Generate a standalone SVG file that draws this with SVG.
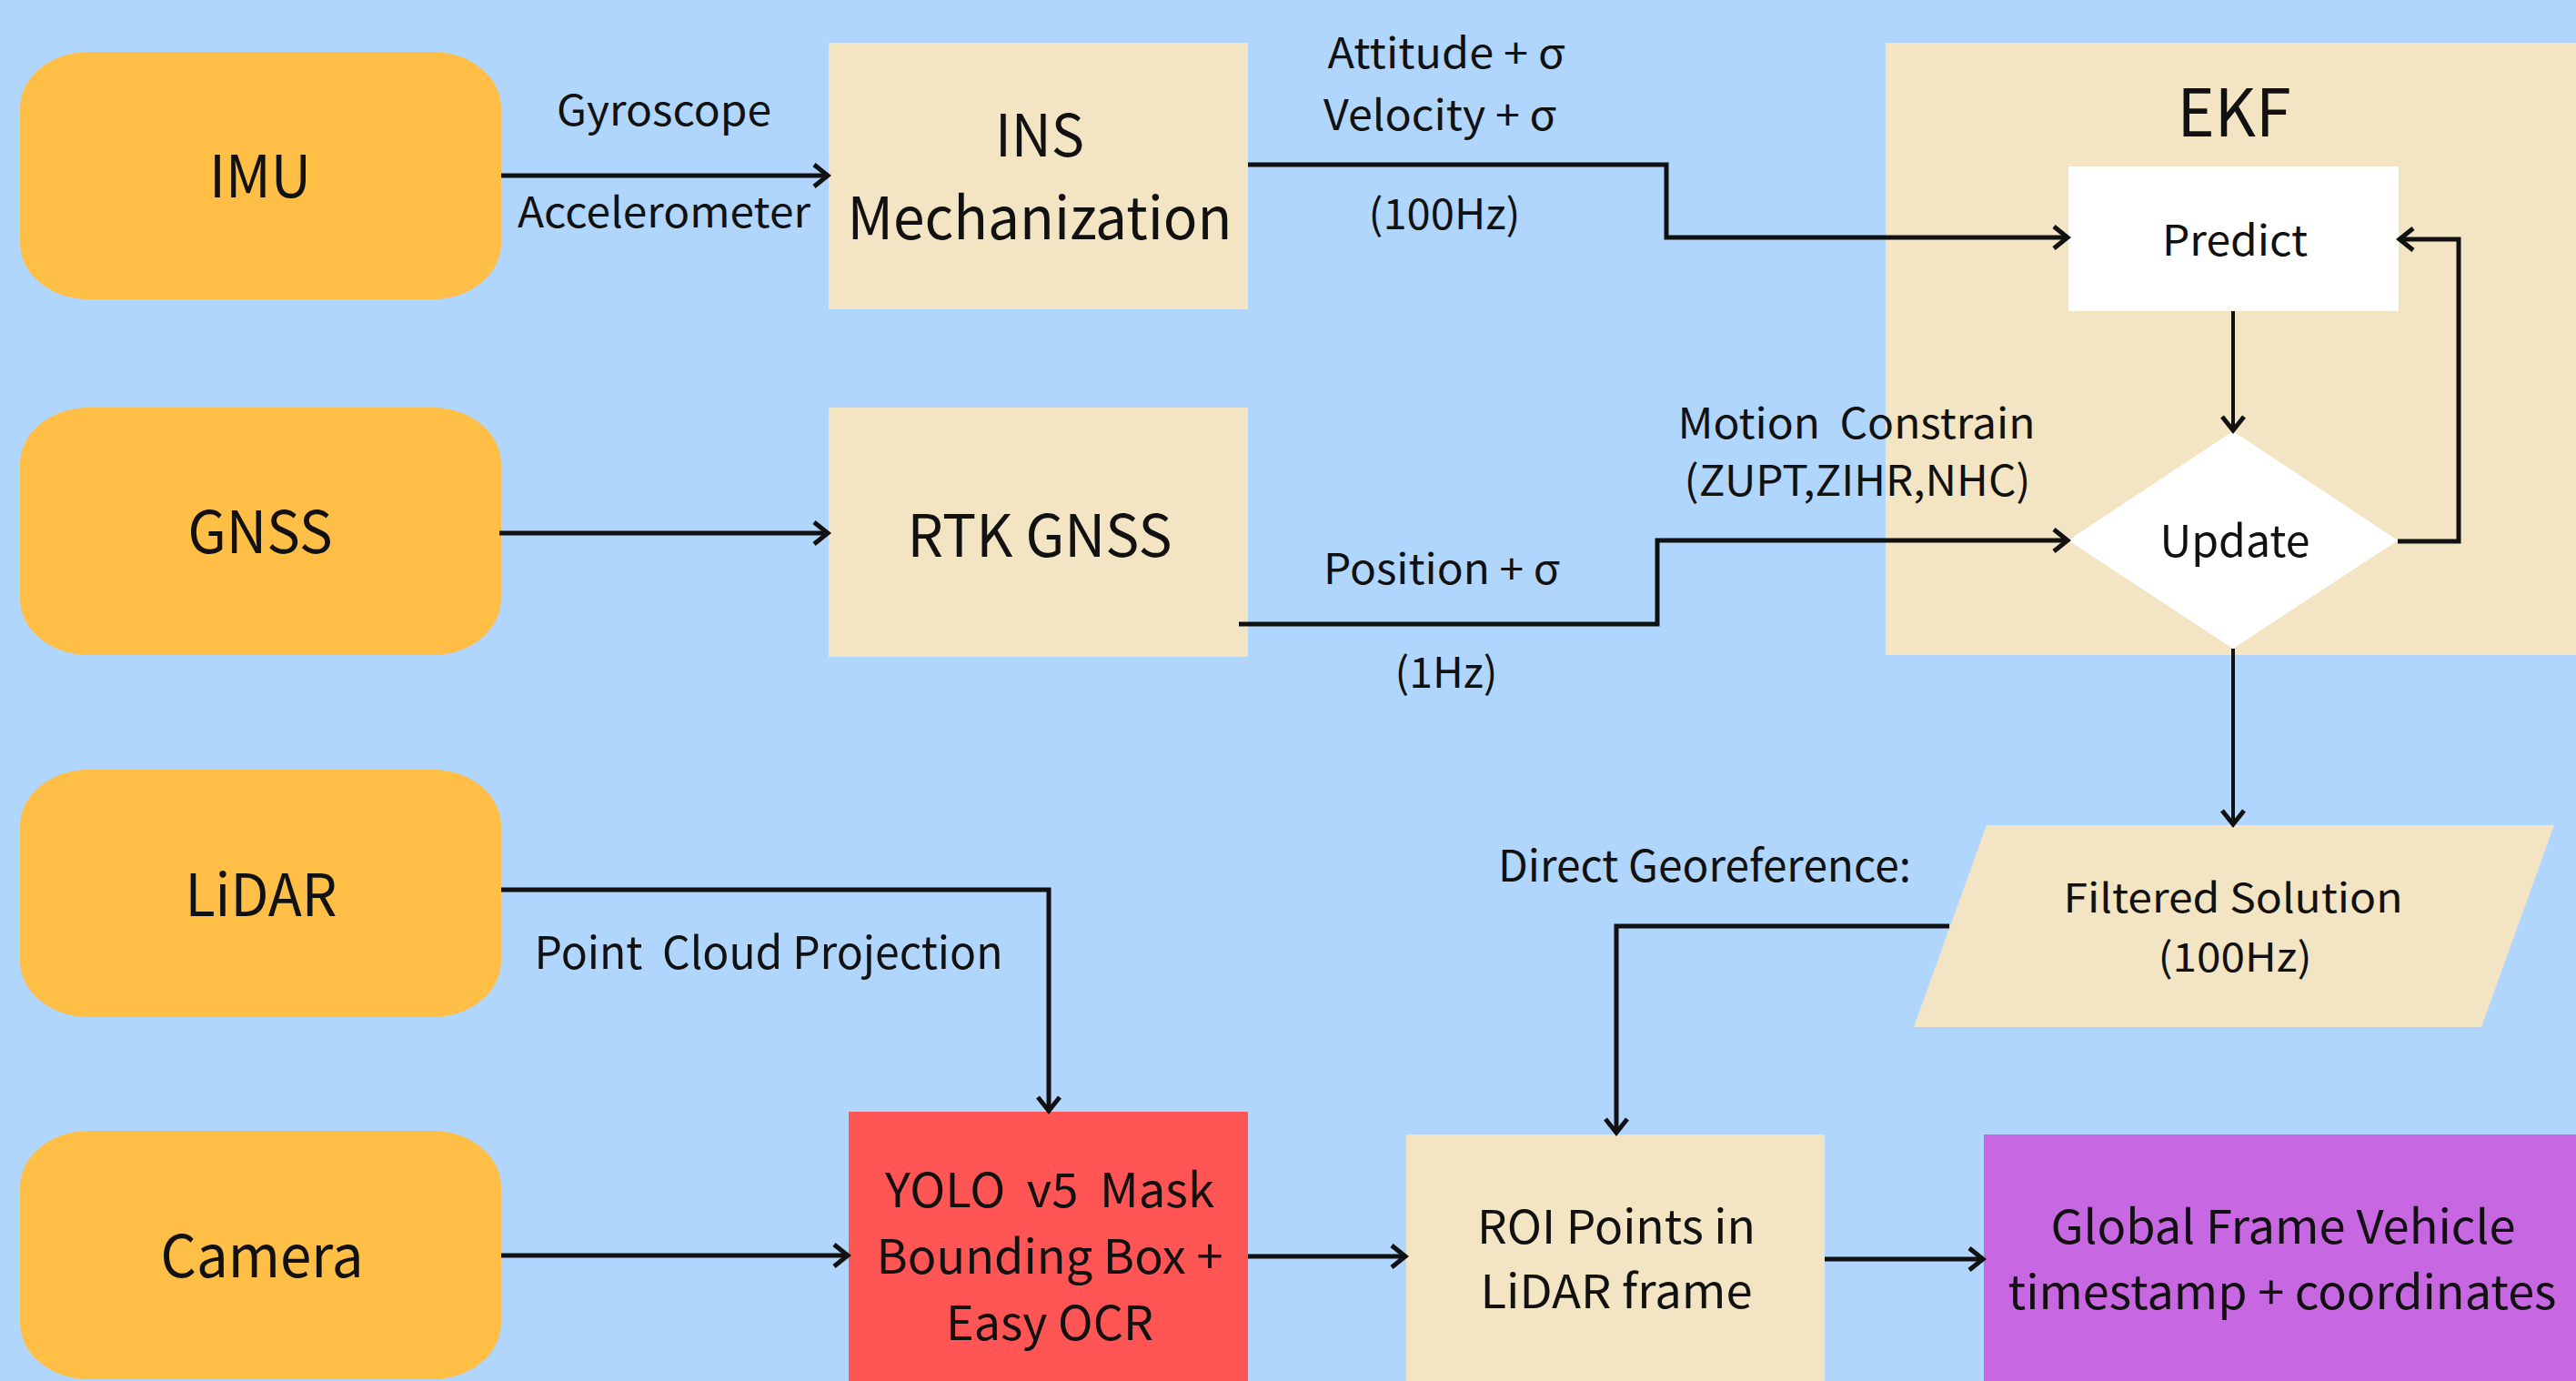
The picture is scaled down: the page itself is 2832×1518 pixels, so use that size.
<svg xmlns="http://www.w3.org/2000/svg" width="2832" height="1518" viewBox="0 0 2832 1518">
<style>
.t{font-family:"Noto Sans CJK SC","Noto Sans",sans-serif;fill:#111;text-anchor:middle}
.pre{white-space:pre}
.src{fill:#FFBE46}
.bg{fill:#F3E5C4}
.ln{fill:none;stroke:#111;stroke-width:5;stroke-linejoin:miter}
.ln2{fill:none;stroke:#111;stroke-width:4;stroke-linejoin:miter}
</style>
<defs>
<marker id="ah" markerUnits="userSpaceOnUse" viewBox="-20 -16 24 32" refX="-1" refY="0" markerWidth="24" markerHeight="32" orient="auto">
<polyline points="-15,-12 0,0 -15,12" fill="none" stroke="#111" stroke-width="5"/>
</marker>
</defs>
<rect width="2832" height="1518" fill="#B0D6FD"/>

<g id="ekf">
<rect class="bg" x="2073" y="47" width="759" height="673"/>
<text class="t" x="2456" y="150" font-size="72" textLength="125" lengthAdjust="spacingAndGlyphs">EKF</text>
</g>

<g id="imu">
<rect class="src" x="22" y="57" width="529" height="272" rx="75" ry="62"/>
<text class="t" x="286" y="217" font-size="64" textLength="112" lengthAdjust="spacingAndGlyphs">IMU</text>
</g>
<g id="gnss">
<rect class="src" x="22" y="448" width="529" height="272" rx="75" ry="62"/>
<text class="t" x="286" y="608" font-size="64" textLength="159" lengthAdjust="spacingAndGlyphs">GNSS</text>
</g>
<g id="lidar">
<rect class="src" x="22" y="846" width="529" height="272" rx="75" ry="62"/>
<text class="t" x="287" y="1007" font-size="64" textLength="167" lengthAdjust="spacingAndGlyphs">LiDAR</text>
</g>
<g id="camera">
<rect class="src" x="22" y="1243" width="529" height="273" rx="75" ry="62"/>
<text class="t" x="288" y="1404" font-size="64" textLength="223" lengthAdjust="spacingAndGlyphs">Camera</text>
</g>

<g id="ins">
<rect class="bg" x="911" y="47" width="461" height="293"/>
<text class="t" x="1143" y="172" font-size="64" textLength="98" lengthAdjust="spacingAndGlyphs">INS</text>
<text class="t" x="1143" y="263" font-size="64" textLength="423" lengthAdjust="spacingAndGlyphs">Mechanization</text>
</g>
<g id="rtk">
<rect class="bg" x="911" y="448" width="461" height="274"/>
<text class="t" x="1143" y="612" font-size="64" textLength="291" lengthAdjust="spacingAndGlyphs">RTK GNSS</text>
</g>

<g id="predict">
<rect x="2274" y="183" width="363" height="159" fill="#FFFFFF"/>
<text class="t" x="2457" y="281" font-size="46" textLength="160" lengthAdjust="spacingAndGlyphs">Predict</text>
</g>
<g id="update">
<polygon points="2455,474 2636,594 2455,713 2274,594" fill="#FFFFFF"/>
<text class="t" x="2457" y="612" font-size="48" textLength="165" lengthAdjust="spacingAndGlyphs">Update</text>
</g>

<g id="filtered">
<polygon class="bg" points="2184,907 2808,907 2728,1129 2104,1129"/>
<text class="t" x="2455" y="1003" font-size="44" textLength="373" lengthAdjust="spacingAndGlyphs">Filtered Solution</text>
<text class="t" x="2457" y="1068" font-size="44" textLength="169" lengthAdjust="spacingAndGlyphs">(100Hz)</text>
</g>

<g id="yolo">
<rect x="933" y="1222" width="439" height="296" fill="#FF5555"/>
<text class="t pre" x="1154" y="1327" font-size="52" textLength="362" lengthAdjust="spacingAndGlyphs">YOLO  v5  Mask</text>
<text class="t" x="1154" y="1400" font-size="52" textLength="381" lengthAdjust="spacingAndGlyphs">Bounding Box +</text>
<text class="t" x="1154" y="1473" font-size="52" textLength="228" lengthAdjust="spacingAndGlyphs">Easy OCR</text>
</g>

<g id="roi">
<rect class="bg" x="1546" y="1247" width="460" height="271"/>
<text class="t" x="1777" y="1367" font-size="51" textLength="306" lengthAdjust="spacingAndGlyphs">ROI Points in</text>
<text class="t" x="1777" y="1438" font-size="51" textLength="299" lengthAdjust="spacingAndGlyphs">LiDAR frame</text>
</g>

<g id="global">
<rect x="2181" y="1247" width="651" height="271" fill="#C867E2"/>
<text class="t" x="2510" y="1367" font-size="51" textLength="511" lengthAdjust="spacingAndGlyphs">Global Frame Vehicle</text>
<text class="t" x="2509" y="1439" font-size="51" textLength="603" lengthAdjust="spacingAndGlyphs">timestamp + coordinates</text>
</g>

<g id="connectors">
<path class="ln" d="M551,193 H909" marker-end="url(#ah)"/>
<path class="ln" d="M549,586 H909" marker-end="url(#ah)"/>
<path class="ln" d="M1372,181 H1832 V261 H2272" marker-end="url(#ah)"/>
<path class="ln" d="M1362,686 H1822 V594 H2272" marker-end="url(#ah)"/>
<path class="ln2" d="M2455,342 V472" marker-end="url(#ah)"/>
<path class="ln" d="M2636,595 H2703 V263 H2639" marker-end="url(#ah)"/>
<path class="ln2" d="M2455,713 V905" marker-end="url(#ah)"/>
<path class="ln" d="M2143,1018 H1777 V1244" marker-end="url(#ah)"/>
<path class="ln" d="M551,978 H1153 V1220" marker-end="url(#ah)"/>
<path class="ln" d="M551,1380 H931" marker-end="url(#ah)"/>
<path class="ln" d="M1372,1381 H1544" marker-end="url(#ah)"/>
<path class="ln" d="M2006,1384 H2179" marker-end="url(#ah)"/>
</g>

<g id="labels">
<text class="t" x="730" y="138" font-size="46" textLength="236" lengthAdjust="spacingAndGlyphs">Gyroscope</text>
<text class="t" x="730" y="250" font-size="46" textLength="322" lengthAdjust="spacingAndGlyphs">Accelerometer</text>
<text class="t" x="1590" y="75" font-size="46" textLength="261" lengthAdjust="spacingAndGlyphs">Attitude + σ</text>
<text class="t" x="1583" y="143" font-size="46" textLength="256" lengthAdjust="spacingAndGlyphs">Velocity + σ</text>
<text class="t" x="1588" y="252" font-size="46" textLength="167" lengthAdjust="spacingAndGlyphs">(100Hz)</text>
<text class="t pre" x="2041" y="482" font-size="46" textLength="393" lengthAdjust="spacingAndGlyphs">Motion  Constrain</text>
<text class="t" x="2042" y="545" font-size="46" textLength="381" lengthAdjust="spacingAndGlyphs">(ZUPT,ZIHR,NHC)</text>
<text class="t" x="1585" y="642" font-size="46" textLength="260" lengthAdjust="spacingAndGlyphs">Position + σ</text>
<text class="t" x="1590" y="756" font-size="46" textLength="113" lengthAdjust="spacingAndGlyphs">(1Hz)</text>
<text class="t pre" x="845" y="1065" font-size="49" textLength="515" lengthAdjust="spacingAndGlyphs">Point  Cloud Projection</text>
<text class="t" x="1874" y="969" font-size="48" textLength="454" lengthAdjust="spacingAndGlyphs">Direct Georeference:</text>
</g>
</svg>
